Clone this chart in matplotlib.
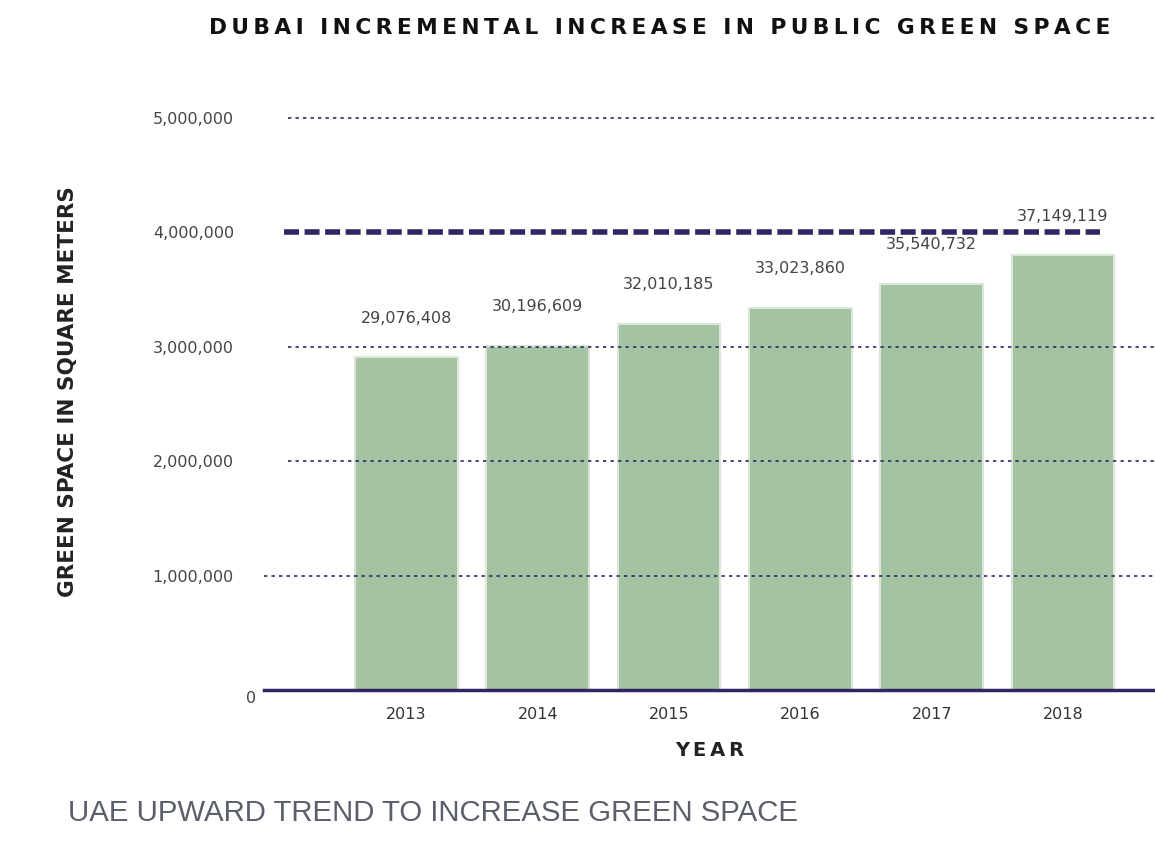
import matplotlib.pyplot as plt
import matplotlib.ticker as mticker
from matplotlib.transforms import ScaledTranslation

# values
years = ["2013", "2014", "2015", "2016", "2017", "2018"]
bar_heights = [2910000, 3010000, 3200000, 3340000, 3550000, 3800000]
bar_labels = ["29,076,408", "30,196,609", "32,010,185", "33,023,860", "35,540,732", "37,149,119"]
y_ticks = [0, 1000000, 2000000, 3000000, 4000000, 5000000]
target_level = 4000000

navy = "#312663"
green = "#a3c3a3"

plt.rcParams['font.family'] = ['DejaVu Sans']

fig = plt.figure(figsize=(11.55, 8.44), dpi=100)
ax = fig.add_axes([0.229, 0.1825, 0.771, 0.7105])

x = list(range(len(years)))
bars = ax.bar(x, bar_heights, width=0.78, color=green, edgecolor="#d9e6d8", linewidth=1.5, zorder=2)

# dotted grid lines (the 4M one is covered by the target line)
for t in y_ticks[1:]:
    if t == target_level:
        continue
    xmin = 0 if t == 1000000 else 0.026
    ax.axhline(t, xmin=xmin, xmax=1, color=navy, linestyle=(0, (2, 2.5)), linewidth=1.2, zorder=3)

# target dashed line
ax.axhline(target_level, xmin=0.022, xmax=0.938, color=navy, linestyle=(0, (2.7, 1)), linewidth=4, zorder=3)
ax.axhline(0, color=navy, linewidth=2.5, zorder=4, clip_on=False)

for rect, label in zip(bars, bar_labels):
    ax.annotate(label, (rect.get_x() + rect.get_width() / 2, rect.get_height()),
                xytext=(0, 28), textcoords="offset points",
                ha="center", va="center", fontsize=11.5, color="#444444")

ax.set_xlim(-1.08, 5.70)
ax.set_ylim(0, 5240000)
ax.set_xticks(x)
ax.set_xticklabels(years, fontsize=11.5, color="#333333")
ax.set_yticks(y_ticks)
ax.yaxis.set_major_formatter(mticker.FuncFormatter(lambda v, p: "{:,.0f}".format(v)))
ax.tick_params(axis="y", labelsize=11.5, labelcolor="#444444", length=0, pad=22)
ax.tick_params(axis="x", length=0, pad=12)
for s in ax.spines.values():
    s.set_visible(False)

# the "0" label sits closer to the axis and a bit lower
zero_lbl = ax.get_yticklabels()[0]
zero_lbl.set_transform(zero_lbl.get_transform() + ScaledTranslation(0.22, -0.07, fig.dpi_scale_trans))

ax.set_xlabel("\u2009".join("YEAR"), fontsize=14, fontweight="bold", color="#222222", labelpad=14)
fig.text(0.059, 0.5355, "GREEN SPACE IN SQUARE METERS", rotation=90, ha="center", va="center",
         fontsize=15.5, fontweight="bold", color="#222222")

title = "DUBAI INCREMENTAL INCREASE IN PUBLIC GREEN SPACE"
fig.text(0.571, 0.967, "\u2009".join(title), ha="center", va="center",
         fontsize=15.7, fontweight="bold", color="#111111")

fig.text(0.059, 0.020, "UAE UPWARD TREND TO INCREASE GREEN SPACE", ha="left", va="bottom",
         fontsize=21.2, color="#5a5f6b", family=['Liberation Sans'])

plt.savefig("out.png", dpi=100)
